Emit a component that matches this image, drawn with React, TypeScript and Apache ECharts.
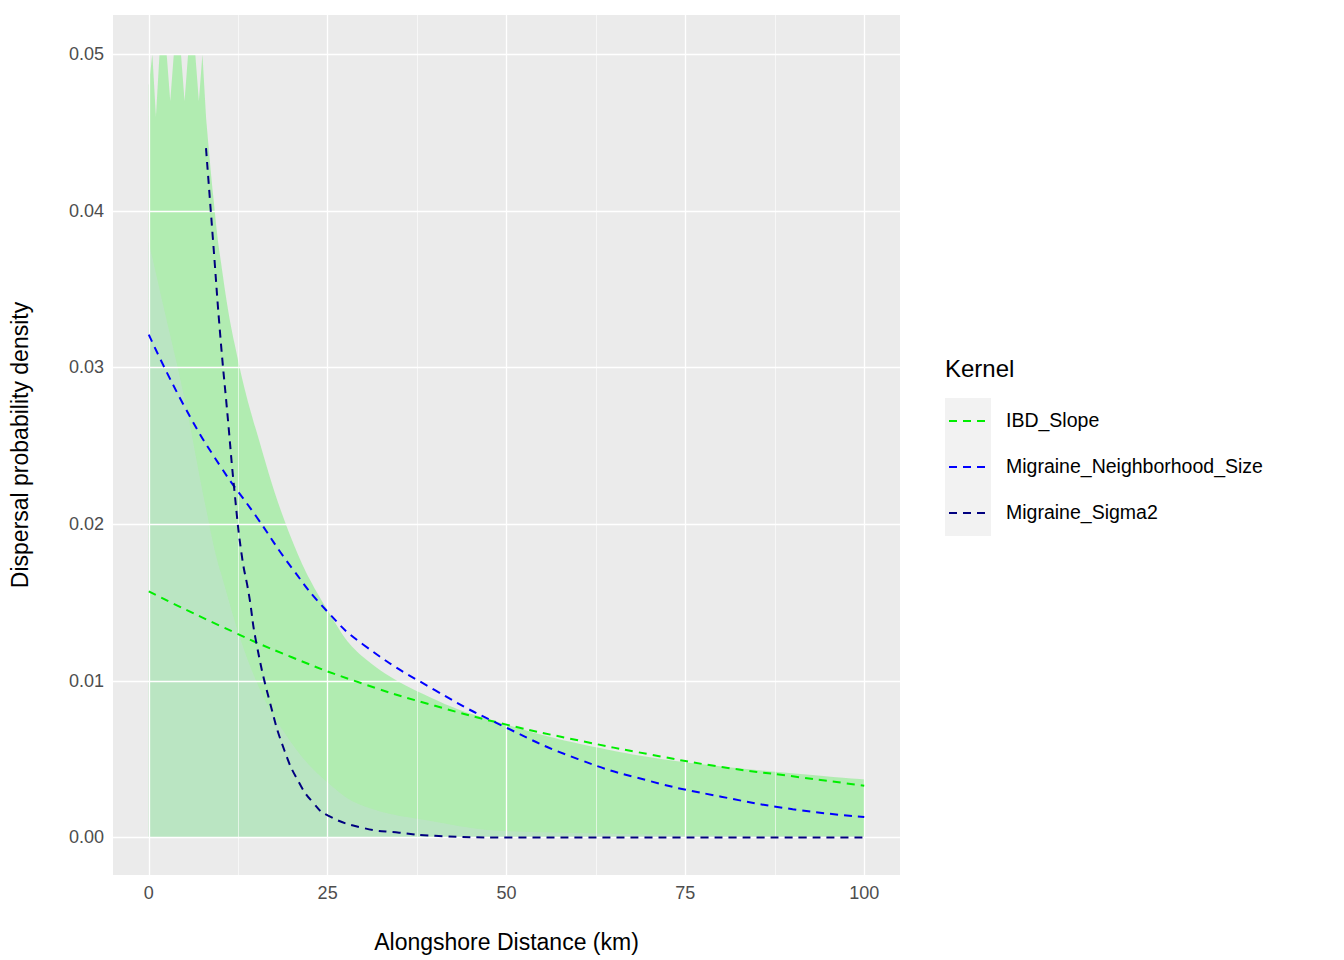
import React, { useEffect, useRef } from "react";
import * as echarts from "echarts";

const xTicks = [0, 25, 50, 75, 100];
const xMinor = [12.5, 37.5, 62.5, 87.5];
const yTicks = [0, 0.01, 0.02, 0.03, 0.04, 0.05];
const yMinor = [0.005, 0.015, 0.025, 0.035, 0.045];

const ibdSlope = [[0,0.0157],[10,0.0135],[20,0.0115],[30,0.0098],[40,0.0084],[50,0.0072],[60,0.0062],[70,0.0053],[80,0.0045],[90,0.0039],[100,0.0033]];
const migraineNS = [[0,0.0321],[5,0.0275],[10,0.0237],[15,0.0205],[20,0.0172],[25,0.0144],[30,0.0123],[40,0.0094],[50,0.0070],[60,0.0050],[70,0.0036],[80,0.0026],[90,0.0018],[100,0.0013]];
const migraineS2 = [[8,0.044],[9,0.038],[10,0.032],[11,0.027],[12,0.022],[13,0.018],[14,0.0155],[15,0.0125],[17,0.0085],[19,0.0055],[21,0.0035],[23,0.0022],[25,0.0014],[30,0.0006],[35,0.0003],[40,0.0001],[50,0],[100,0]];
const spikeEnvelope = [[0,0.048],[0.5,0.05],[1,0.046],[1.5,0.05],[2.5,0.05],[3,0.047],[3.5,0.05],[4.5,0.05],[5,0.047],[5.5,0.05],[6.5,0.05],[7,0.047],[7.5,0.05],[8,0.046]];
const upperEnvelope = [[8,0.046],[9,0.041],[10,0.037],[12,0.0315],[15,0.026],[20,0.019],[25,0.0145],[30,0.0115],[40,0.0088],[50,0.0072],[60,0.006],[75,0.0048],[100,0.0037]];
const paleEnvelope = [[0,0.038],[2,0.034],[5,0.028],[8,0.021],[10,0.017],[15,0.01],[20,0.006],[25,0.0035],[30,0.002],[40,0.001],[50,0.0004],[100,0.0001]];

export default function App() {
  const ref = useRef<HTMLDivElement>(null);
  useEffect(() => {
    const chart = echarts.init(ref.current!, null, { renderer: "svg" });
    const vLines = [...xMinor.map(v => ({ xAxis: v, lineStyle: { width: 0.6 } })), ...xTicks.map(v => ({ xAxis: v, lineStyle: { width: 1.3 } }))];
    const hLines = [...yMinor.map(v => ({ yAxis: v, lineStyle: { width: 0.6 } })), ...yTicks.map(v => ({ yAxis: v, lineStyle: { width: 1.3 } }))];
    const ff = "Liberation Sans, Arial";
    const txt = { color: "#4d4d4d", fontSize: 18, fontFamily: ff };
    const green = "rgba(144,236,144,0.92)";
    const dash = [8, 6];
    chart.setOption({
      animation: false,
      grid: { left: 108, top: 15, width: 792, height: 860, show: true, backgroundColor: "#ebebeb", borderWidth: 0 },
      xAxis: {
        type: "value", min: -5, max: 105,
        name: "Alongshore Distance (km)", nameLocation: "middle", nameGap: 55,
        nameTextStyle: { color: "#000", fontSize: 23, fontFamily: ff },
        splitLine: { show: false }, axisLine: { show: false },
        axisTick: { show: true, length: 5, lineStyle: { color: "#333" }, customValues: xTicks },
        axisLabel: { ...txt, margin: 9, customValues: xTicks },
      },
      yAxis: {
        type: "value", min: -0.0024, max: 0.0525,
        name: "Dispersal probability density", nameLocation: "middle", nameGap: 82,
        nameTextStyle: { color: "#000", fontSize: 23, fontFamily: ff },
        splitLine: { show: false }, axisLine: { show: false },
        axisTick: { show: true, length: 5, lineStyle: { color: "#333" }, customValues: yTicks },
        axisLabel: { ...txt, margin: 9, customValues: yTicks, formatter: (v: number) => v.toFixed(2) },
      },
      series: [
        { type: "line", data: [], z: 1, silent: true,
          markLine: { silent: true, symbol: "none", label: { show: false }, lineStyle: { color: "#fff", type: "solid" }, data: [...vLines, ...hLines] } },
        { type: "line", data: spikeEnvelope, z: 2, symbol: "none", lineStyle: { width: 0 }, areaStyle: { color: green, origin: 0 } },
        { type: "line", data: upperEnvelope, z: 2, symbol: "none", smooth: 0.4, lineStyle: { width: 0 }, areaStyle: { color: green, origin: 0 } },
        { type: "line", data: paleEnvelope, z: 3, symbol: "none", lineStyle: { width: 0 }, smooth: 0.4,
          areaStyle: { color: "rgba(196,222,212,0.7)", origin: 0 } },
        { type: "line", data: ibdSlope, z: 5, symbol: "none", smooth: true, lineStyle: { color: "#00ee00", width: 2, type: dash } },
        { type: "line", data: migraineNS, z: 5, symbol: "none", smooth: true, lineStyle: { color: "#0000ff", width: 2, type: dash } },
        { type: "line", data: migraineS2, z: 5, symbol: "none", smooth: true, lineStyle: { color: "#00007f", width: 2, type: dash } },
      ],
      graphic: [
        { type: "text", left: 945, top: 356, style: { text: "Kernel", fontSize: 24, fill: "#000", fontFamily: ff } },
        { type: "rect", shape: { x: 945, y: 398, width: 46, height: 138 }, style: { fill: "#f2f2f2" } },
        ...[["IBD_Slope", "#00ee00", 421], ["Migraine_Neighborhood_Size", "#0000ff", 467], ["Migraine_Sigma2", "#00007f", 513]].flatMap(([label, c, y]) => [
          { type: "line", shape: { x1: 949, y1: y as number, x2: 987, y2: y as number }, style: { stroke: c as string, lineWidth: 2, lineDash: dash } },
          { type: "text", left: 1006, top: (y as number) - 11, style: { text: label as string, fontSize: 19.5, fill: "#000", fontFamily: ff } },
        ]),
      ],
    });
    return () => chart.dispose();
  }, []);
  return <div ref={ref} style={{ width: 1344, height: 960, position: "absolute", left: 0, top: 0 }} />;
}
